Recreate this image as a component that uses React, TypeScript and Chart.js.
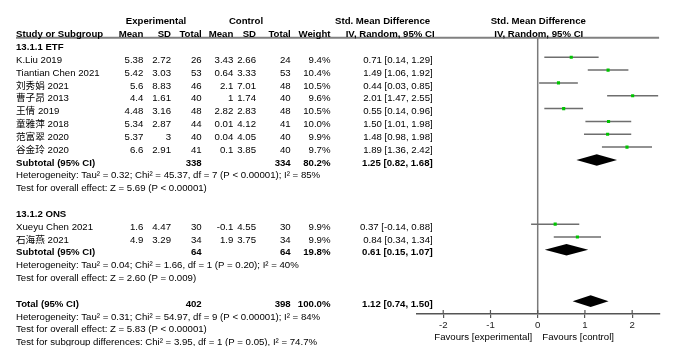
import React, { useEffect, useRef } from "react";
import { Chart, registerables } from "chart.js";
Chart.register(...registerables);

const FONT = "'Liberation Sans', Arial, 'Noto Sans CJK SC', sans-serif";
const FS = 9.65;

// Subgroup 13.1.1 ETF
const etfStudies = ["K.Liu 2019", "Tiantian Chen 2021", "刘秀娟 2021", "曹子昂 2013", "王倩 2019", "童雅萍 2018", "范富翠 2020", "谷金玲 2020"];
const etfExpMean = [5.38, 5.42, 5.6, 4.4, 4.48, 5.34, 5.37, 6.6];
const etfExpSD = [2.72, 3.03, 8.83, 1.61, 3.16, 2.87, 3, 2.91];
const etfExpN = [26, 53, 46, 40, 48, 44, 40, 41];
const etfCtlMean = [3.43, 0.64, 2.1, 1, 2.82, 0.01, 0.04, 0.1];
const etfCtlSD = [2.66, 3.33, 7.01, 1.74, 2.83, 4.12, 4.05, 3.85];
const etfCtlN = [24, 53, 48, 40, 48, 41, 40, 40];
const etfWeight = [9.4, 10.4, 10.5, 9.6, 10.5, 10.0, 9.9, 9.7];
const etfSMD = [0.71, 1.49, 0.44, 2.01, 0.55, 1.5, 1.48, 1.89];
const etfLo = [0.14, 1.06, 0.03, 1.47, 0.14, 1.01, 0.98, 1.36];
const etfHi = [1.29, 1.92, 0.85, 2.55, 0.96, 1.98, 1.98, 2.42];

// Subgroup 13.1.2 ONS
const onsStudies = ["Xueyu Chen 2021", "石海燕 2021"];
const onsExpMean = [1.6, 4.9];
const onsExpSD = [4.47, 3.29];
const onsExpN = [30, 34];
const onsCtlMean = [-0.1, 1.9];
const onsCtlSD = [4.55, 3.75];
const onsCtlN = [30, 34];
const onsWeight = [9.9, 9.9];
const onsSMD = [0.37, 0.84];
const onsLo = [-0.14, 0.34];
const onsHi = [0.88, 1.34];

// Pooled estimates: ETF subtotal, ONS subtotal, overall total
const pooledLabels = ["Subtotal (95% CI)", "Subtotal (95% CI)", "Total (95% CI)"];
const pooledExpN = [338, 64, 402];
const pooledCtlN = [334, 64, 398];
const pooledWeight = [80.2, 19.8, 100.0];
const pooledSMD = [1.25, 0.61, 1.12];
const pooledLo = [0.82, 0.15, 0.74];
const pooledHi = [1.68, 1.07, 1.5];

const groupLabels = ["13.1.1 ETF", "13.1.2 ONS"];
const hetTexts = [
  "Heterogeneity: Tau² = 0.32; Chi² = 45.37, df = 7 (P < 0.00001); I² = 85%",
  "Heterogeneity: Tau² = 0.04; Chi² = 1.66, df = 1 (P = 0.20); I² = 40%",
  "Heterogeneity: Tau² = 0.31; Chi² = 54.97, df = 9 (P < 0.00001); I² = 84%",
];
const testTexts = [
  "Test for overall effect: Z = 5.69 (P < 0.00001)",
  "Test for overall effect: Z = 2.60 (P = 0.009)",
  "Test for overall effect: Z = 5.83 (P < 0.00001)",
];
const subgroupText = "Test for subgroup differences: Chi² = 3.95, df = 1 (P = 0.05), I² = 74.7%";
const xTicks = [-2, -1, 0, 1, 2];
const favoursLeft = "Favours [experimental]";
const favoursRight = "Favours [control]";

export default function App() {
  const ref = useRef<HTMLCanvasElement | null>(null);

  useEffect(() => {
    if (!ref.current) return;

    // row layout
    const etfRows = etfStudies.map((_, i) => 1 + i);
    const onsRows = onsStudies.map((_, i) => 14 + i);
    const pooledRows = [9, 16, 20];
    const groupRows = [0, 13];
    const hetRows = [10, 17, 21];
    const testRows = [11, 18, 22];
    const subgroupRow = 23;

    const studies = [...etfStudies, ...onsStudies];
    const rows = [...etfRows, ...onsRows];
    const smd = [...etfSMD, ...onsSMD];
    const lo = [...etfLo, ...onsLo];
    const hi = [...etfHi, ...onsHi];
    const expMean = [...etfExpMean, ...onsExpMean];
    const expSD = [...etfExpSD, ...onsExpSD];
    const expN = [...etfExpN, ...onsExpN];
    const ctlMean = [...etfCtlMean, ...onsCtlMean];
    const ctlSD = [...etfCtlSD, ...onsCtlSD];
    const ctlN = [...etfCtlN, ...onsCtlN];
    const weight = [...etfWeight, ...onsWeight];

    const ciFmt = (e: number, l: number, h: number) => `${e.toFixed(2)} [${l.toFixed(2)}, ${h.toFixed(2)}]`;

    const COL = {
      study: 16,
      eMean: 143.3,
      eSD: 171,
      eN: 201.7,
      cMean: 233.3,
      cSD: 256,
      cN: 290.7,
      w: 330.5,
      ci: 432.7,
    };

    const ciDatasets = studies.map((_, i) => ({
      type: "line" as const,
      data: [
        { x: lo[i], y: rows[i] },
        { x: hi[i], y: rows[i] },
      ],
      borderColor: "#6e6e6e",
      borderWidth: 1.5,
      pointRadius: 0,
      order: 2,
    }));

    const tablePlugin = {
      id: "forestTable",
      beforeDatasetsDraw(chart: any) {
        const { ctx, chartArea } = chart;
        ctx.save();
        ctx.strokeStyle = "#808080";
        ctx.lineWidth = 2;
        ctx.beginPath();
        ctx.moveTo(COL.study, chartArea.top - 0.3);
        ctx.lineTo(chartArea.right, chartArea.top - 0.3);
        ctx.stroke();
        ctx.restore();
      },
      afterDatasetsDraw(chart: any) {
        const { ctx } = chart;
        const xs = chart.scales.x;
        const ys = chart.scales.y;
        ctx.save();
        ctx.fillStyle = "#000";
        pooledRows.forEach((r, i) => {
          const y = ys.getPixelForValue(r);
          const h = 5.8;
          ctx.beginPath();
          ctx.moveTo(xs.getPixelForValue(pooledLo[i]), y);
          ctx.lineTo(xs.getPixelForValue(pooledSMD[i]), y - h);
          ctx.lineTo(xs.getPixelForValue(pooledHi[i]), y);
          ctx.lineTo(xs.getPixelForValue(pooledSMD[i]), y + h);
          ctx.closePath();
          ctx.fill();
        });
        ctx.restore();
      },
      afterDraw(chart: any) {
        const { ctx, chartArea, width, height } = chart;
        const xs = chart.scales.x;
        const ys = chart.scales.y;
        const base = (r: number) => ys.getPixelForValue(r) + 5.6;
        const regular = `${FS}px ${FONT}`;
        const bold = `bold ${FS}px ${FONT}`;
        const txt = (s: string, x: number, y: number, align: CanvasTextAlign, b = false) => {
          ctx.font = b ? bold : regular;
          ctx.textAlign = align;
          ctx.fillText(s, x, y);
        };
        ctx.save();
        ctx.fillStyle = "#000";
        ctx.textBaseline = "alphabetic";

        // upper halves of axis tick marks
        ctx.strokeStyle = "#555";
        ctx.lineWidth = 1.2;
        xTicks.forEach((v) => {
          const px = xs.getPixelForValue(v);
          ctx.beginPath();
          ctx.moveTo(px, chartArea.bottom - 4);
          ctx.lineTo(px, chartArea.bottom);
          ctx.stroke();
        });

        // headers
        const h1 = base(-2);
        const h2 = base(-1);
        txt("Experimental", 156, h1, "center", true);
        txt("Control", 246, h1, "center", true);
        txt("Std. Mean Difference", 335, h1, "left", true);
        txt("Std. Mean Difference", 490.7, h1, "left", true);
        txt("Study or Subgroup", COL.study, h2, "left", true);
        txt("Mean", COL.eMean, h2, "right", true);
        txt("SD", COL.eSD, h2, "right", true);
        txt("Total", COL.eN, h2, "right", true);
        txt("Mean", COL.cMean, h2, "right", true);
        txt("SD", COL.cSD, h2, "right", true);
        txt("Total", COL.cN, h2, "right", true);
        txt("Weight", COL.w, h2, "right", true);
        txt("IV, Random, 95% CI", 345.7, h2, "left", true);
        txt("IV, Random, 95% CI", 494.3, h2, "left", true);

        groupLabels.forEach((g, i) => txt(g, COL.study, base(groupRows[i]), "left", true));

        studies.forEach((s, i) => {
          const y = base(rows[i]);
          txt(s, COL.study, y, "left");
          txt(String(expMean[i]), COL.eMean, y, "right");
          txt(String(expSD[i]), COL.eSD, y, "right");
          txt(String(expN[i]), COL.eN, y, "right");
          txt(String(ctlMean[i]), COL.cMean, y, "right");
          txt(String(ctlSD[i]), COL.cSD, y, "right");
          txt(String(ctlN[i]), COL.cN, y, "right");
          txt(weight[i].toFixed(1) + "%", COL.w, y, "right");
          txt(ciFmt(smd[i], lo[i], hi[i]), COL.ci, y, "right");
        });

        pooledLabels.forEach((l, i) => {
          const y = base(pooledRows[i]);
          txt(l, COL.study, y, "left", true);
          txt(String(pooledExpN[i]), COL.eN, y, "right", true);
          txt(String(pooledCtlN[i]), COL.cN, y, "right", true);
          txt(pooledWeight[i].toFixed(1) + "%", COL.w, y, "right", true);
          txt(ciFmt(pooledSMD[i], pooledLo[i], pooledHi[i]), COL.ci, y, "right", true);
        });

        hetTexts.forEach((t, i) => txt(t, COL.study, base(hetRows[i]), "left"));
        testTexts.forEach((t, i) => txt(t, COL.study, base(testRows[i]), "left"));
        const sgBase = base(subgroupRow);
        txt(subgroupText, COL.study, sgBase, "left");

        const zero = xs.getPixelForValue(0);
        txt(favoursLeft, zero - 5.5, 339.6, "right");
        txt(favoursRight, zero + 4.6, 339.6, "left");

        // the source figure is cropped just below the last text baseline
        ctx.fillStyle = "#fff";
        ctx.fillRect(0, sgBase + 0.8, COL.ci + 20, height - sgBase);
        ctx.restore();
      },
    };

    const chart = new Chart(ref.current, {
      type: "scatter",
      data: {
        datasets: [
          {
            type: "line",
            data: [
              { x: 0, y: -0.5 },
              { x: 0, y: 21 },
            ],
            borderColor: "#7a7a7a",
            borderWidth: 1.5,
            pointRadius: 0,
            order: 3,
          } as any,
          ...ciDatasets,
          {
            type: "scatter",
            data: smd.map((v, i) => ({ x: v, y: rows[i] })),
            pointStyle: "rect",
            pointRadius: 2.2,
            backgroundColor: "#00c400",
            borderWidth: 0,
            order: 1,
          } as any,
        ],
      },
      options: {
        animation: false,
        responsive: true,
        maintainAspectRatio: false,
        layout: { padding: { left: 416.3, right: 28.9, top: 38, bottom: 0 } },
        plugins: { legend: { display: false }, tooltip: { enabled: false } },
        events: [],
        scales: {
          x: {
            type: "linear",
            min: -2.57,
            max: 2.57,
            position: "bottom",
            afterBuildTicks: (s: any) => {
              s.ticks = xTicks.map((v) => ({ value: v }));
            },
            afterFit: (s: any) => {
              s.height = 37;
            },
            grid: { display: true, drawOnChartArea: false, drawTicks: true, tickLength: 4, color: "#555", lineWidth: 1.2 },
            border: { display: true, color: "#555", width: 1.5 },
            ticks: {
              autoSkip: false,
              maxRotation: 0,
              padding: 1.5,
              color: "#222",
              font: { family: FONT, size: FS },
              callback: (v: any) => String(v),
            },
          },
          y: { type: "linear", min: -0.5, max: 21, reverse: true, display: false },
        },
      } as any,
      plugins: [tablePlugin],
    });
    return () => chart.destroy();
  }, []);

  return (
    <div style={{ position: "absolute", left: 0, top: 0, width: 688, height: 351, background: "#fff" }}>
      <canvas ref={ref} />
    </div>
  );
}
